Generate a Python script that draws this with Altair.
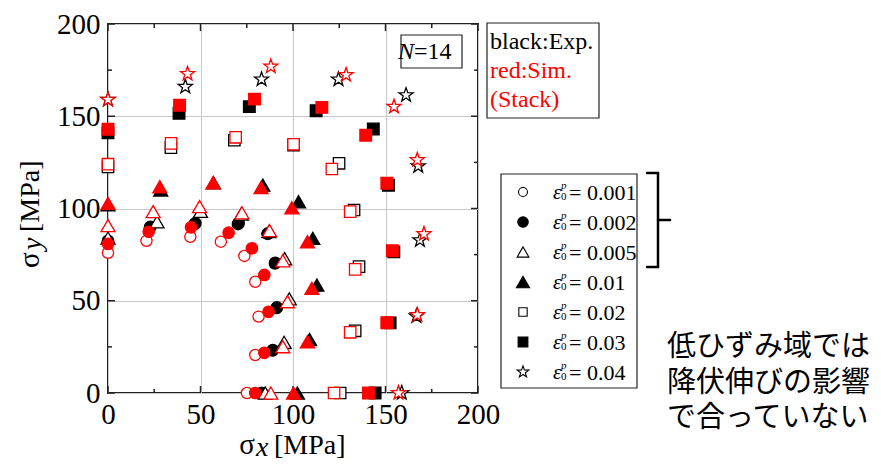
import altair as alt
import pandas as pd

# ---------------- data ----------------
STRAINS = ["0.001", "0.002", "0.005", "0.01", "0.02", "0.03", "0.04"]
STAR = ("M0,-1L0.235,-0.324L0.951,-0.309L0.38,0.124L0.588,0.809L0,0.4"
        "L-0.588,0.809L-0.38,0.124L-0.951,-0.309L-0.235,-0.324Z")
SHAPES = ["circle", "circle", "triangle-up", "triangle-up", "square", "square", STAR]
FILLED = [False, True, False, True, False, True, False]

# Experiment (black)
EXP_0001 = [(0, 81.8), (22.6, 89.6), (46.8, 91.5), (70.2, 91.5), (86.2, 86.2), (90.2, 70.2), (91.0, 46.0), (88.9, 23.0), (83.0, 0)]
EXP_0002 = [(0, 82.5), (22.9, 90.1), (47.2, 92.0), (70.6, 92.0), (86.5, 86.5), (90.4, 70.6), (91.3, 46.4), (89.1, 23.3), (83.2, 0)]
EXP_0005 = [(0, 84.0), (26.5, 92.8), (50.0, 98.5), (72.0, 97.0), (87.0, 87.5), (95.5, 72.8), (98.0, 51.0), (95.2, 27.5), (85.0, 0)]
EXP_001 = [(0, 102.0), (28.5, 110.0), (57.0, 114.0), (83.7, 112.7), (103.0, 103.7), (110.7, 83.8), (112.9, 58.5), (109.0, 29.0), (102.4, 0)]
EXP_002 = [(0, 122.5), (34.0, 133.0), (68.3, 137.0), (100.3, 134.4), (124.9, 124.5), (133.0, 99.2), (135.7, 68.5), (133.6, 33.7), (125.5, 0)]
EXP_003 = [(0, 141.0), (38.4, 151.6), (76.4, 155.2), (112.5, 153.0), (143.4, 143.1), (151.6, 112.6), (154.5, 76.5), (152.5, 38.0), (144.4, 0)]
EXP_004 = [(0, 159.0), (41.8, 166.0), (83.0, 170.0), (124.6, 170.0), (161.1, 161.5), (167.7, 123.0), (168.6, 82.9), (166.7, 41.6), (158.8, 0)]

# Simulation, Stack (red)
SIM_0001 = [(0, 76.0), (20.8, 82.5), (44.5, 84.7), (61.0, 82.0), (73.7, 74.3), (79.6, 60.3), (81.4, 41.4), (79.6, 20.6), (75.1, 0)]
SIM_0002 = [(0, 80.8), (22.0, 87.4), (44.9, 89.8), (65.2, 86.9), (77.8, 78.4), (84.5, 64.0), (86.8, 44.0), (84.5, 21.8), (79.6, 0)]
SIM_0005 = [(0, 90.7), (24.4, 98.3), (49.5, 101.0), (72.4, 97.7), (87.3, 88.0), (94.5, 71.7), (97.0, 49.5), (94.5, 25.1), (88.0, 0)]
SIM_001 = [(0, 102.8), (28.0, 111.8), (56.8, 114.0), (82.7, 111.3), (99.4, 100.4), (107.8, 82.0), (110.2, 56.7), (107.8, 27.8), (100.3, 0)]
SIM_002 = [(0, 124.0), (34.1, 135.3), (69.0, 138.6), (100.3, 134.8), (121.0, 121.4), (130.9, 98.3), (133.6, 67.0), (130.9, 32.9), (122.2, 0)]
SIM_003 = [(0, 143.0), (38.7, 156.0), (79.2, 159.3), (115.6, 154.8), (139.3, 139.7), (150.7, 113.7), (153.7, 77.1), (150.7, 38.1), (140.8, 0)]
SIM_004 = [(0, 159.0), (43.0, 173.0), (88.0, 177.0), (128.7, 172.4), (154.6, 155.2), (167.2, 126.3), (170.8, 86.2), (167.2, 42.3), (157.0, 0)]

EXP = [EXP_0001, EXP_0002, EXP_0005, EXP_001, EXP_002, EXP_003, EXP_004]
SIM = [SIM_0001, SIM_0002, SIM_0005, SIM_001, SIM_002, SIM_003, SIM_004]

MAJOR_TICKS = [0, 50, 100, 150, 200]
MINOR_TICKS = [25, 75, 125, 175]

NOTE_LINES = ["低ひずみ域では", "降伏伸びの影響", "で合っていない"]
SRC_LINES = ["black:Exp.", "red:Sim.", "(Stack)"]
SRC_COLORS = ["black", "red", "red"]

# ---------------- layout constants ----------------
W, H = 370, 369
SERIF = "Liberation Serif"
CJK = "Noto Sans CJK JP"
FRAME = "#222222"

xs = alt.Scale(domain=[0, 200], nice=False, zero=False)
ys = alt.Scale(domain=[0, 200], nice=False, zero=False)
xaxis = alt.Axis(values=MAJOR_TICKS, grid=True, gridColor="#c8c8c8", gridWidth=1,
                 ticks=False, domain=False, title=None, labelFont=SERIF, orient="bottom",
                 labelFontSize=29, labelColor="black", labelPadding=7, labelFlush=False)
yaxis = alt.Axis(values=MAJOR_TICKS, grid=True, gridColor="#c8c8c8", gridWidth=1,
                 ticks=False, domain=False, title=None, labelFont=SERIF, orient="left",
                 labelFontSize=29, labelColor="black", labelPadding=8, labelFlush=False)

one = pd.DataFrame({"a": [0]})
layers = []

# ---------------- inward ticks on all four sides ----------------
for vals, ln in ((MAJOR_TICKS, 7), (MINOR_TICKS, 4)):
    tdf = pd.DataFrame({"v": vals})
    base = alt.Chart(tdf).mark_rule(color=FRAME, strokeWidth=1.5)
    layers.append(base.encode(x=alt.X("v:Q", scale=xs, axis=xaxis), y=alt.value(H), y2=alt.value(H - ln)))
    layers.append(base.encode(x=alt.X("v:Q", scale=xs, axis=xaxis), y=alt.value(0), y2=alt.value(ln)))
    layers.append(base.encode(y=alt.Y("v:Q", scale=ys, axis=yaxis), x=alt.value(0), x2=alt.value(ln)))
    layers.append(base.encode(y=alt.Y("v:Q", scale=ys, axis=yaxis), x=alt.value(W), x2=alt.value(W - ln)))

# ---------------- data markers ----------------
SIZES = [125, 130, 196, 196, 130, 135, 220]


def pts_df(points):
    return pd.DataFrame({"sx": [p[0] for p in points], "sy": [p[1] for p in points]})


for series, color in ((EXP, "black"), (SIM, "red")):
    for pts, shp, fl, sz in zip(series, SHAPES, FILLED, SIZES):
        layers.append(
            alt.Chart(pts_df(pts)).mark_point(
                shape=shp, size=sz, filled=True,
                fill=color if fl else "white", stroke=color, strokeWidth=1.3,
                opacity=1, fillOpacity=1, strokeOpacity=1,
            ).encode(
                x=alt.X("sx:Q", scale=xs, axis=xaxis),
                y=alt.Y("sy:Q", scale=ys, axis=yaxis),
            )
        )


def txt(text, x, y, size, color="black", font=SERIF, style="normal", align="left", baseline="middle", angle=0):
    return alt.Chart(one).mark_text(
        text=text, font=font, fontSize=size, fontStyle=style, color=color,
        align=align, baseline=baseline, angle=angle,
    ).encode(x=alt.value(x), y=alt.value(y))


def box(x1, x2, y1, y2):
    return alt.Chart(one).mark_rect(fill="white", stroke=FRAME, strokeWidth=1.2).encode(
        x=alt.value(x1), x2=alt.value(x2), y=alt.value(y1), y2=alt.value(y2))


def seg(x1, x2, y1, y2, w=2.5):
    return alt.Chart(one).mark_rule(color="black", strokeWidth=w, strokeCap="round").encode(
        x=alt.value(x1), x2=alt.value(x2), y=alt.value(y1), y2=alt.value(y2))


# N=14 box
layers.append(box(293, 354, 11, 44))
layers.append(txt("N", 306, 28, 24, style="italic", align="right"))
layers.append(txt("=14", 306, 28, 24))

# source box
layers.append(box(379, 491, -1, 94))
for i, (line, col) in enumerate(zip(SRC_LINES, SRC_COLORS)):
    layers.append(txt(line, 382, 18 + 29 * i, 24, color=col))

# legend
layers.append(box(393, 529, 150, 364))
LEG_SIZES = [80, 110, 140, 175, 70, 95, 150]
for i, (lab, shp, fl, sz) in enumerate(zip(STRAINS, SHAPES, FILLED, LEG_SIZES)):
    yy = 168 + 30 * i
    layers.append(
        alt.Chart(one).mark_point(
            shape=shp, size=sz, filled=True,
            fill="black" if fl else "white", stroke="black", strokeWidth=1.1,
            opacity=1, fillOpacity=1, strokeOpacity=1,
        ).encode(x=alt.value(415), y=alt.value(yy))
    )
    layers.append(txt("ε", 445, yy + 1, 21, style="italic"))
    layers.append(txt("p", 453, yy - 6, 11, style="italic"))
    layers.append(txt("0", 453, yy + 5, 11))
    layers.append(txt("= " + lab, 461, yy + 1, 22))

# bracket
layers.append(seg(539, 550, 149, 149))
layers.append(seg(550, 550, 149, 243))
layers.append(seg(539, 550, 243, 243))
layers.append(seg(550, 562, 196, 196))

# Japanese note
for i, line in enumerate(NOTE_LINES):
    layers.append(txt(line, 559, 323 + 35.5 * i, 29, font=CJK))

# axis titles
layers.append(txt("σ", 147, 430, 29, align="right", baseline="alphabetic"))
layers.append(txt("x", 148, 432, 28, style="italic", baseline="alphabetic"))
layers.append(txt("[MPa]", 166, 430, 28, baseline="alphabetic"))

layers.append(txt("σ", -69, 244, 29, align="left", baseline="alphabetic", angle=270))
layers.append(txt("y", -67, 226, 28, style="italic", align="left", baseline="alphabetic", angle=270))
layers.append(txt("[MPa]", -69, 208, 28, align="left", baseline="alphabetic", angle=270))

chart = alt.layer(*layers).properties(
    width=W, height=H,
    padding={"left": 100, "top": 16, "right": 395, "bottom": 69},
    autosize=alt.AutoSizeParams(type="none"),
    background="white",
).configure_view(stroke=FRAME, strokeWidth=2)

chart.save("out.html", embed_options={"renderer": "svg", "actions": False})
